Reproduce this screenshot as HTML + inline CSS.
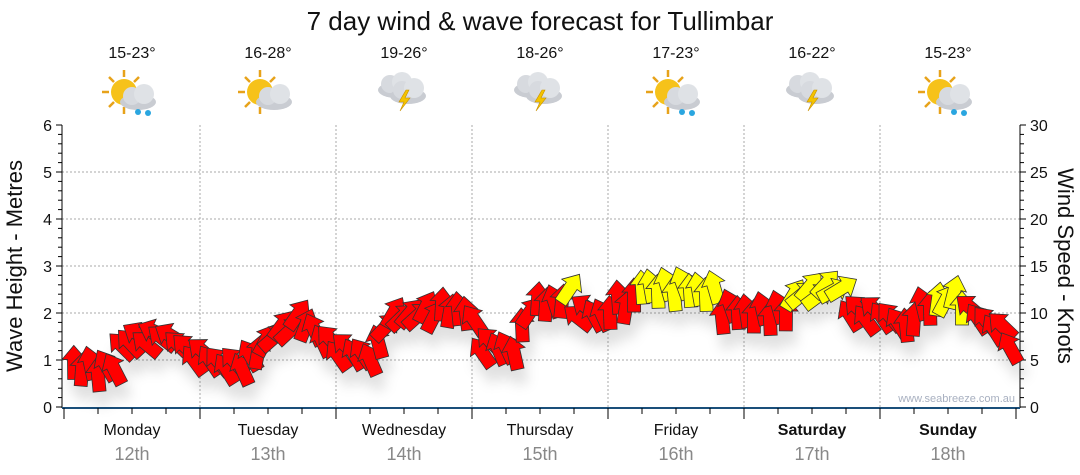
<!DOCTYPE html>
<html><head><meta charset="utf-8"><style>
html,body{margin:0;padding:0;background:#fff;}
svg{display:block;font-family:"Liberation Sans",sans-serif;}
</style></head><body>
<svg id="s" width="1080" height="475" xmlns="http://www.w3.org/2000/svg">
<defs>
<filter id="sh" x="-50%" y="-50%" width="200%" height="200%"><feDropShadow dx="4" dy="14" stdDeviation="6" flood-color="#000" flood-opacity="0.12"/></filter>
<g id="sun"><circle cx="0" cy="0" r="13" fill="#f6c21a"/><g stroke="#e7a21a" stroke-width="2.5">
<line x1="0" y1="-22" x2="0" y2="-15"/><line x1="0" y1="22" x2="0" y2="15"/><line x1="-22" y1="0" x2="-15" y2="0"/><line x1="22" y1="0" x2="15" y2="0"/>
<line x1="-15" y1="-15" x2="-10" y2="-10"/><line x1="15" y1="-15" x2="10" y2="-10"/><line x1="-15" y1="15" x2="-10" y2="10"/><line x1="15" y1="15" x2="10" y2="10"/></g></g>
<g id="cloud"><ellipse cx="0" cy="6" rx="18" ry="8" fill="#c9ccd2"/><circle cx="-6" cy="0" r="9" fill="#d7dadf"/><circle cx="6" cy="-2" r="10" fill="#dfe2e6"/></g>
<g id="bolt"><polygon points="2,-6 -5,6 0,6 -4,15 6,2 1,2 5,-6" fill="#f4c400" stroke="#c89000" stroke-width="0.6"/></g>
<g id="drops"><circle cx="-6" cy="0" r="3" fill="#2aa6e0"/><circle cx="4" cy="1" r="3" fill="#2aa6e0"/></g>
</defs>
<text x="540" y="30" text-anchor="middle" font-size="26" fill="#111">7 day wind &amp; wave forecast for Tullimbar</text>
<g id="grid" stroke="#aaa" stroke-dasharray="2,2" stroke-width="1"></g>
<g id="axes"></g>
<g id="arrows" filter="url(#sh)"></g>
<g id="icons"></g>
<text x="1015" y="402" text-anchor="end" font-size="11" fill="#a8b0c0">www.seabreeze.com.au</text>
<text transform="translate(22,266) rotate(-90)" text-anchor="middle" font-size="22" fill="#111">Wave Height - Metres</text>
<text transform="translate(1058,266) rotate(90)" text-anchor="middle" font-size="22" fill="#111">Wind Speed - Knots</text>
</svg>
<script>
var NS="http://www.w3.org/2000/svg",S=document.getElementById('s');
function el(t,a,p){var e=document.createElementNS(NS,t);for(var k in a)e.setAttribute(k,a[k]);(p||S).appendChild(e);return e;}
var g=document.getElementById('grid'),ax=document.getElementById('axes');
var y0=407,u=47,L=62,R=1020;
for(var i=1;i<=5;i++)el('line',{x1:L,x2:R,y1:y0-i*u,y2:y0-i*u},g);
for(var d=1;d<7;d++){var x=64+d*136;el('line',{x1:x,x2:x,y1:125,y2:407},g);}
el('line',{x1:L,y1:125,x2:L,y2:408,stroke:'#000'},ax);
el('line',{x1:R,y1:125,x2:R,y2:408,stroke:'#000'},ax);
el('line',{x1:L,y1:408,x2:R,y2:408,stroke:'#1a4f7a','stroke-width':2},ax);
for(var i=0;i<=30;i++){var y=y0-i*u/5;var big=i%5==0;
 el('line',{x1:L-(big?6:0),x2:L+(big?0:-4),y1:y,y2:y,stroke:'#000'},ax);
 el('line',{x1:R,x2:R+(big?6:4),y1:y,y2:y,stroke:'#000'},ax);
 if(big){var t=el('text',{x:L-10,y:y+6,'text-anchor':'end','font-size':16,fill:'#111'},ax);t.textContent=i/5;
 var t2=el('text',{x:R+10,y:y+6,'font-size':16,fill:'#111'},ax);t2.textContent=i;}}
for(var k=0;k<=28;k++){var x=64+k*34;if(x>R)break;el('line',{x1:x,x2:x,y1:408,y2:408+(k%4==0?11:6),stroke:'#000'},ax);}
var days=['Monday','Tuesday','Wednesday','Thursday','Friday','Saturday','Sunday'],dates=['12th','13th','14th','15th','16th','17th','18th'];
var temps=['15-23°','16-28°','19-26°','18-26°','17-23°','16-22°','15-23°'];
var types=['sunrain','sun','storm','storm','sunrain','storm','sunrain'];
var ic=document.getElementById('icons');
for(var d=0;d<7;d++){var cx=132+d*136;
 var t=el('text',{x:cx,y:435,'text-anchor':'middle','font-size':16,fill:'#111','font-weight':d>=5?'bold':'normal'});t.textContent=days[d];
 var t2=el('text',{x:cx,y:460,'text-anchor':'middle','font-size':18,fill:'#888'});t2.textContent=dates[d];
 var t3=el('text',{x:cx,y:58,'text-anchor':'middle','font-size':16,fill:'#111'});t3.textContent=temps[d];
 var ty=types[d];
 if(ty!='storm')el('use',{href:'#sun',x:cx-8,y:92},ic);
 if(ty=='storm'){el('use',{href:'#cloud',x:cx-8,y:84},ic);el('use',{href:'#cloud',x:cx+4,y:90},ic);el('use',{href:'#bolt',x:cx,y:96},ic);}
 else el('use',{href:'#cloud',x:cx+6,y:96},ic);
 if(ty=='sunrain')el('use',{href:'#drops',x:cx+12,y:112},ic);
}
var Rc='#ff0000',Yc='#ffff00';
var K=[[72,362,0,0],[100,368,-10,0],[112,372,-30,0],[125,338,-50,0],[175,335,-60,0],[185,350,-40,0],[230,365,-40,0],[250,360,-20,0],[270,335,40,0],[300,318,45,0],[315,330,-30,0],[340,350,-40,0],[375,355,-30,0],[385,320,40,0],[420,310,40,0],[470,308,-20,0],[480,345,-40,0],[515,348,-20,0],[530,305,30,0],[560,300,-30,0],[565,290,40,1],[572,292,40,1],[575,310,-60,0],[605,315,-20,0],[615,300,0,0],[635,300,10,0],[640,285,-10,1],[715,290,-10,1],[720,310,-10,0],[790,312,-5,0],[795,290,40,1],[845,288,60,1],[850,310,-40,0],[900,318,-40,0],[905,330,0,0],[915,310,0,0],[935,305,-10,0],[940,295,20,1],[960,295,20,1],[965,310,-40,0],[1005,330,-40,0],[1012,345,-30,0]];
var ar=document.getElementById('arrows');
var pts="0,-17 12,-3 6.5,-3 6.5,17 -6.5,17 -6.5,-3 -12,-3";
var n=0;
for(var x=74;x<=1012;x+=8){
 for(var j=0;j<K.length-1&&K[j+1][0]<x;j++);
 var a=K[j],b=K[Math.min(j+1,K.length-1)];var f=b[0]==a[0]?0:(x-a[0])/(b[0]-a[0]);f=Math.max(0,Math.min(1,f));
 var y=a[1]+(b[1]-a[1])*f,an=a[2]+(b[2]-a[2])*f,c=(f<0.5?a[3]:b[3]);
 if(a[3]==b[3])c=a[3];
 y+=[0,5,-3,7,-5,2][n%6];an+=[0,8,-6,4,-10,6][n%6];n++;
 el('polygon',{points:pts,transform:'translate('+x.toFixed(1)+','+y.toFixed(1)+') rotate('+an.toFixed(1)+')',fill:c?Yc:Rc,stroke:'#333','stroke-width':0.8},ar);
}
</script>
</body></html>
